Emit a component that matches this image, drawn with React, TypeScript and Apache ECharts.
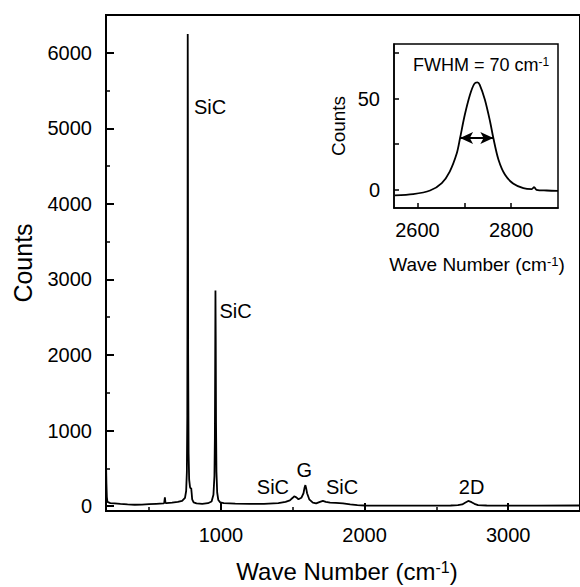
import React, { useEffect, useRef } from "react";
import * as echarts from "echarts";

// Main Raman spectrum (wave number cm^-1, counts)
const mainWave = [200, 203, 206, 210, 230, 260, 300, 350, 400, 450, 500, 550, 600, 605, 610, 614, 620, 660, 700, 730, 750, 758, 763, 766, 768, 769, 770, 772, 775, 779, 785, 790, 793, 796, 800, 810, 830, 870, 910, 935, 948, 955, 958, 960, 962, 964, 966, 969, 974, 982, 995, 1020, 1100, 1200, 1300, 1400, 1450, 1480, 1500, 1510, 1525, 1540, 1560, 1575, 1583, 1588, 1593, 1600, 1615, 1640, 1663, 1690, 1710, 1730, 1760, 1800, 1850, 1900, 1950, 2000, 2100, 2300, 2500, 2600, 2650, 2680, 2700, 2722, 2745, 2765, 2790, 2850, 3000, 3200, 3500];
const mainCounts = [580, 300, 120, 55, 40, 35, 28, 22, 18, 20, 25, 30, 35, 40, 115, 45, 38, 45, 55, 70, 110, 200, 450, 1200, 3500, 6248, 5200, 2000, 700, 350, 250, 230, 240, 180, 90, 50, 35, 30, 38, 60, 150, 400, 900, 1800, 2853, 2200, 1100, 450, 180, 80, 50, 40, 32, 28, 30, 40, 55, 75, 110, 130, 115, 90, 110, 170, 250, 277, 240, 170, 90, 45, 35, 55, 68, 55, 45, 42, 35, 22, 12, 8, 6, 6, 7, 8, 12, 22, 45, 68, 52, 30, 12, 8, 7, 7, 8];

// Inset: 2D band
const insetWave = [2552, 2591, 2627, 2652, 2669, 2684, 2691, 2701, 2712, 2721, 2728, 2733, 2744, 2755, 2762, 2773, 2787, 2805, 2826, 2844, 2849, 2854, 2876, 2900];
const insetCounts = [-3.1, -2.4, -0.4, 3.7, 10, 20, 28.4, 41, 52, 58, 58.9, 57.6, 49.4, 37.5, 28.4, 16.5, 8.2, 3.3, 0.9, 0.4, 1.5, 0, -0.4, -0.6];

// Tick values
const mainXLabels = [1000, 2000, 3000];
const mainXMinor = [500, 1500, 2500, 3500];
const mainYLabels = [0, 1000, 2000, 3000, 4000, 5000, 6000];
const mainYMinor = [500, 1500, 2500, 3500, 4500, 5500];
const insetXTicks = [2600, 2700, 2800];
const insetXLabels = [2600, 2800];
const insetYTicks = [0, 25, 50, 75];
const insetYLabels = [0, 50];

// Peak annotations
const peakNames = ["SiC", "SiC", "SiC", "G", "SiC", "2D"];
const peakX = [924, 1102, 1362, 1581, 1843, 2745];
const peakY = [5281, 2581, 251, 480, 251, 251];

// FWHM
const fwhmLeft = 2691;
const fwhmRight = 2762;
const fwhmLevel = 28.4;

const FONT = "'Liberation Sans', Arial, Helvetica, sans-serif";

export default function App() {
  const ref = useRef<HTMLDivElement>(null);
  useEffect(() => {
    document.body.style.margin = "0";
    if (!ref.current) return;
    const chart = echarts.init(ref.current, null, { renderer: "svg" });
    const mainData = mainWave.map((w, i) => [w, mainCounts[i]]);
    const insetData = insetWave.map((w, i) => [w, insetCounts[i]]);
    const peaks = peakNames.map((n, i) => ({ name: n, value: [peakX[i], peakY[i]] }));
    const fmt = (v: number) => String(v);
    const labelStyle = { color: "#000", fontFamily: FONT, fontSize: 20, formatter: fmt };
    chart.setOption({
      animation: false,
      backgroundColor: "#fff",
      textStyle: { fontFamily: FONT },
      grid: [
        { left: 106, top: 15, right: -9, bottom: 76, show: true, borderColor: "#000", borderWidth: 2, backgroundColor: "transparent" },
        { left: 394, top: 44, right: 22, bottom: 379, show: true, borderColor: "#000", borderWidth: 1.5, backgroundColor: "#fff", z: 5 },
      ],
      xAxis: [
        {
          gridIndex: 0, type: "value", min: 200, max: 3500, position: "bottom",
          axisLine: { show: true, onZero: false, lineStyle: { color: "#000", width: 2 } },
          axisTick: { show: true, inside: true, length: 8, customValues: mainXLabels, lineStyle: { color: "#000", width: 2 } },
          axisLabel: { ...labelStyle, margin: 14, customValues: mainXLabels },
          splitLine: { show: false },
        },
        {
          gridIndex: 0, type: "value", min: 200, max: 3500, position: "bottom",
          axisLine: { show: false, onZero: false },
          axisTick: { show: true, inside: true, length: 4, customValues: mainXMinor, lineStyle: { color: "#000", width: 1.5 } },
          axisLabel: { show: false },
          splitLine: { show: false },
        },
        {
          gridIndex: 1, type: "value", min: 2550, max: 2900, position: "bottom", z: 6,
          axisLine: { show: true, onZero: false, lineStyle: { color: "#000", width: 1.5 } },
          axisTick: { show: true, inside: true, length: 5, customValues: insetXTicks, lineStyle: { color: "#000", width: 1.5 } },
          axisLabel: { ...labelStyle, margin: 12, customValues: insetXLabels },
          splitLine: { show: false },
        },
      ],
      yAxis: [
        {
          gridIndex: 0, type: "value", min: -65, max: 6500, position: "left",
          axisLine: { show: true, onZero: false, lineStyle: { color: "#000", width: 2 } },
          axisTick: { show: true, inside: true, length: 8, customValues: mainYLabels, lineStyle: { color: "#000", width: 2 } },
          axisLabel: { ...labelStyle, margin: 14, customValues: mainYLabels },
          splitLine: { show: false },
        },
        {
          gridIndex: 0, type: "value", min: -65, max: 6500, position: "left",
          axisLine: { show: false, onZero: false },
          axisTick: { show: true, inside: true, length: 4, customValues: mainYMinor, lineStyle: { color: "#000", width: 1.5 } },
          axisLabel: { show: false },
          splitLine: { show: false },
        },
        {
          gridIndex: 1, type: "value", min: -10, max: 80, position: "left", z: 6,
          axisLine: { show: true, onZero: false, lineStyle: { color: "#000", width: 1.5 } },
          axisTick: { show: true, inside: true, length: 5, customValues: insetYTicks, lineStyle: { color: "#000", width: 1.5 } },
          axisLabel: { ...labelStyle, margin: 14, customValues: insetYLabels },
          splitLine: { show: false },
        },
      ],
      series: [
        {
          type: "line", xAxisIndex: 0, yAxisIndex: 0, data: mainData, showSymbol: false,
          lineStyle: { color: "#000", width: 1.8 }, z: 2,
        },
        {
          type: "scatter", xAxisIndex: 0, yAxisIndex: 0, data: peaks, symbolSize: 1,
          itemStyle: { color: "#fff", opacity: 1 },
          label: {
            show: true, position: "inside", formatter: "{b}", color: "#000", fontFamily: FONT, fontSize: 20,
            textBorderWidth: 0, opacity: 1,
          },
          z: 3,
        },
        {
          type: "line", xAxisIndex: 2, yAxisIndex: 2, data: insetData, showSymbol: false, smooth: 0.3,
          lineStyle: { color: "#000", width: 1.8 }, z: 7,
          markLine: {
            silent: true, animation: false,
            symbol: ["arrow", "arrow"], symbolSize: [9, 13],
            label: { show: false },
            lineStyle: { color: "#000", width: 2, type: "solid" },
            data: [[{ coord: [fwhmLeft, fwhmLevel] }, { coord: [fwhmRight, fwhmLevel] }]],
          },
        },
        {
          type: "scatter", xAxisIndex: 2, yAxisIndex: 2, data: [{ name: "FWHM", value: [2736, 68.3] }], symbolSize: 1,
          itemStyle: { color: "#fff", opacity: 1 }, z: 8,
          label: {
            show: true, position: "inside", formatter: "FWHM = 70 cm{sup|-1}",
            color: "#000", fontFamily: FONT, fontSize: 18, textBorderWidth: 0, opacity: 1,
            rich: { sup: { fontSize: 12, verticalAlign: "top", color: "#000", fontFamily: FONT, lineHeight: 18 } },
          },
        },
      ],
      graphic: [
        {
          type: "text", x: 23, y: 263, rotation: Math.PI / 2, z: 10,
          style: { text: "Counts", fontSize: 25, fontFamily: FONT, fill: "#000", align: "center", verticalAlign: "middle" },
        },
        {
          type: "text", x: 347, y: 571, z: 10,
          style: {
            text: "Wave Number (cm{sup|-1})", fontSize: 24, fontFamily: FONT, fill: "#000", align: "center", verticalAlign: "middle",
            rich: { sup: { fontSize: 16, verticalAlign: "top", fill: "#000", fontFamily: FONT, lineHeight: 24 } },
          },
        },
        {
          type: "text", x: 338, y: 126, rotation: Math.PI / 2, z: 10,
          style: { text: "Counts", fontSize: 19, fontFamily: FONT, fill: "#000", align: "center", verticalAlign: "middle" },
        },
        {
          type: "text", x: 477, y: 264, z: 10,
          style: {
            text: "Wave Number (cm{sup|-1})", fontSize: 19, fontFamily: FONT, fill: "#000", align: "center", verticalAlign: "middle",
            rich: { sup: { fontSize: 13, verticalAlign: "top", fill: "#000", fontFamily: FONT, lineHeight: 19 } },
          },
        },
      ],
    });
    return () => chart.dispose();
  }, []);
  return <div ref={ref} style={{ width: 580, height: 587 }} />;
}
